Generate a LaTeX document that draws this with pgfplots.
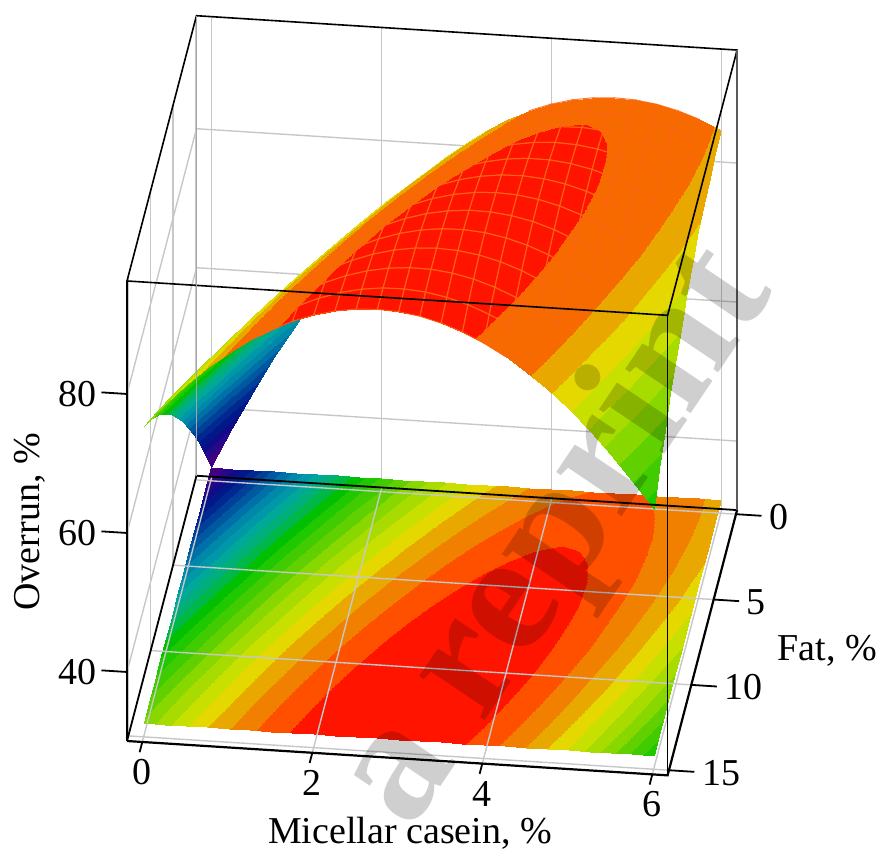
\documentclass[border=0pt]{standalone}
\usepackage{pgfplots}
\usepackage{pgfplotstable}
\usepackage{fontspec}
\setmainfont{Liberation Serif}
\pgfplotsset{compat=1.18}
\pgfplotstableread[row sep=\\]{
x y z\\
0 0 32.00\\ 0.25 0 37.80\\ 0.5 0 43.28\\ 0.75 0 48.45\\ 1 0 53.31\\ 1.25 0 57.86\\ 1.5 0 62.10\\ 1.75 0 66.03\\ 2 0 69.64\\ 2.25 0 72.95\\ 2.5 0 75.94\\ 2.75 0 78.62\\ 3 0 80.99\\ 3.25 0 83.05\\ 3.5 0 84.80\\ 3.75 0 86.24\\ 4 0 87.36\\ 4.25 0 88.18\\ 4.5 0 88.68\\ 4.75 0 88.87\\ 5 0 88.75\\ 5.25 0 88.32\\ 5.5 0 87.58\\ 5.75 0 86.53\\ 6 0 85.16\\
0 1.25 36.84\\ 0.25 1.25 42.42\\ 0.5 1.25 47.69\\ 0.75 1.25 52.65\\ 1 1.25 57.30\\ 1.25 1.25 61.64\\ 1.5 1.25 65.67\\ 1.75 1.25 69.39\\ 2 1.25 72.79\\ 2.25 1.25 75.89\\ 2.5 1.25 78.67\\ 2.75 1.25 81.14\\ 3 1.25 83.30\\ 3.25 1.25 85.15\\ 3.5 1.25 86.69\\ 3.75 1.25 87.92\\ 4 1.25 88.83\\ 4.25 1.25 89.44\\ 4.5 1.25 89.73\\ 4.75 1.25 89.71\\ 5 1.25 89.38\\ 5.25 1.25 88.74\\ 5.5 1.25 87.78\\ 5.75 1.25 86.52\\ 6 1.25 84.95\\
0 2.5 41.44\\ 0.25 2.5 46.82\\ 0.5 2.5 51.88\\ 0.75 2.5 56.63\\ 1 2.5 61.07\\ 1.25 2.5 65.20\\ 1.5 2.5 69.02\\ 1.75 2.5 72.53\\ 2 2.5 75.72\\ 2.25 2.5 78.61\\ 2.5 2.5 81.18\\ 2.75 2.5 83.44\\ 3 2.5 85.38\\ 3.25 2.5 87.02\\ 3.5 2.5 88.35\\ 3.75 2.5 89.37\\ 4 2.5 90.07\\ 4.25 2.5 90.47\\ 4.5 2.5 90.55\\ 4.75 2.5 90.32\\ 5 2.5 89.78\\ 5.25 2.5 88.93\\ 5.5 2.5 87.77\\ 5.75 2.5 86.30\\ 6 2.5 84.51\\
0 3.75 45.82\\ 0.25 3.75 50.98\\ 0.5 3.75 55.83\\ 0.75 3.75 60.37\\ 1 3.75 64.60\\ 1.25 3.75 68.52\\ 1.5 3.75 72.13\\ 1.75 3.75 75.43\\ 2 3.75 78.41\\ 2.25 3.75 81.08\\ 2.5 3.75 83.44\\ 2.75 3.75 85.49\\ 3 3.75 87.23\\ 3.25 3.75 88.66\\ 3.5 3.75 89.78\\ 3.75 3.75 90.59\\ 4 3.75 91.08\\ 4.25 3.75 91.27\\ 4.5 3.75 91.14\\ 4.75 3.75 90.70\\ 5 3.75 89.95\\ 5.25 3.75 88.89\\ 5.5 3.75 87.51\\ 5.75 3.75 85.83\\ 6 3.75 83.83\\
0 5 49.96\\ 0.25 5 54.91\\ 0.5 5 59.55\\ 0.75 5 63.88\\ 1 5 67.90\\ 1.25 5 71.61\\ 1.5 5 75.01\\ 1.75 5 78.10\\ 2 5 80.87\\ 2.25 5 83.34\\ 2.5 5 85.49\\ 2.75 5 87.33\\ 3 5 88.86\\ 3.25 5 90.08\\ 3.5 5 90.98\\ 3.75 5 91.58\\ 4 5 91.86\\ 4.25 5 91.83\\ 4.5 5 91.49\\ 4.75 5 90.85\\ 5 5 89.89\\ 5.25 5 88.62\\ 5.5 5 87.03\\ 5.75 5 85.14\\ 6 5 82.93\\
0 6.25 53.88\\ 0.25 6.25 58.62\\ 0.5 6.25 63.05\\ 0.75 6.25 67.17\\ 1 6.25 70.98\\ 1.25 6.25 74.48\\ 1.5 6.25 77.67\\ 1.75 6.25 80.55\\ 2 6.25 83.11\\ 2.25 6.25 85.37\\ 2.5 6.25 87.31\\ 2.75 6.25 88.94\\ 3 6.25 90.25\\ 3.25 6.25 91.26\\ 3.5 6.25 91.96\\ 3.75 6.25 92.35\\ 4 6.25 92.42\\ 4.25 6.25 92.18\\ 4.5 6.25 91.63\\ 4.75 6.25 90.77\\ 5 6.25 89.60\\ 5.25 6.25 88.12\\ 5.5 6.25 86.33\\ 5.75 6.25 84.22\\ 6 6.25 81.80\\
0 7.5 57.57\\ 0.25 7.5 62.10\\ 0.5 7.5 66.32\\ 0.75 7.5 70.23\\ 1 7.5 73.83\\ 1.25 7.5 77.12\\ 1.5 7.5 80.10\\ 1.75 7.5 82.77\\ 2 7.5 85.12\\ 2.25 7.5 87.16\\ 2.5 7.5 88.89\\ 2.75 7.5 90.31\\ 3 7.5 91.42\\ 3.25 7.5 92.22\\ 3.5 7.5 92.70\\ 3.75 7.5 92.88\\ 4 7.5 92.74\\ 4.25 7.5 92.29\\ 4.5 7.5 91.53\\ 4.75 7.5 90.46\\ 5 7.5 89.08\\ 5.25 7.5 87.39\\ 5.5 7.5 85.39\\ 5.75 7.5 83.08\\ 6 7.5 80.45\\
0 8.75 61.02\\ 0.25 8.75 65.35\\ 0.5 8.75 69.36\\ 0.75 8.75 73.06\\ 1 8.75 76.44\\ 1.25 8.75 79.52\\ 1.5 8.75 82.29\\ 1.75 8.75 84.74\\ 2 8.75 86.88\\ 2.25 8.75 88.72\\ 2.5 8.75 90.24\\ 2.75 8.75 91.45\\ 3 8.75 92.34\\ 3.25 8.75 92.93\\ 3.5 8.75 93.21\\ 3.75 8.75 93.17\\ 4 8.75 92.82\\ 4.25 8.75 92.17\\ 4.5 8.75 91.20\\ 4.75 8.75 89.92\\ 5 8.75 88.33\\ 5.25 8.75 86.43\\ 5.5 8.75 84.21\\ 5.75 8.75 81.69\\ 6 8.75 78.85\\
0 10 64.25\\ 0.25 10 68.37\\ 0.5 10 72.17\\ 0.75 10 75.66\\ 1 10 78.83\\ 1.25 10 81.70\\ 1.5 10 84.26\\ 1.75 10 86.50\\ 2 10 88.43\\ 2.25 10 90.06\\ 2.5 10 91.37\\ 2.75 10 92.37\\ 3 10 93.05\\ 3.25 10 93.43\\ 3.5 10 93.50\\ 3.75 10 93.25\\ 4 10 92.69\\ 4.25 10 91.83\\ 4.5 10 90.65\\ 4.75 10 89.16\\ 5 10 87.35\\ 5.25 10 85.24\\ 5.5 10 82.82\\ 5.75 10 80.08\\ 6 10 77.03\\
0 11.25 67.25\\ 0.25 11.25 71.15\\ 0.5 11.25 74.74\\ 0.75 11.25 78.02\\ 1 11.25 80.99\\ 1.25 11.25 83.65\\ 1.5 11.25 85.99\\ 1.75 11.25 88.03\\ 2 11.25 89.75\\ 2.25 11.25 91.16\\ 2.5 11.25 92.26\\ 2.75 11.25 93.05\\ 3 11.25 93.53\\ 3.25 11.25 93.70\\ 3.5 11.25 93.55\\ 3.75 11.25 93.10\\ 4 11.25 92.33\\ 4.25 11.25 91.25\\ 4.5 11.25 89.86\\ 4.75 11.25 88.16\\ 5 11.25 86.15\\ 5.25 11.25 83.83\\ 5.5 11.25 81.19\\ 5.75 11.25 78.24\\ 6 11.25 74.98\\
0 12.5 70.02\\ 0.25 12.5 73.71\\ 0.5 12.5 77.08\\ 0.75 12.5 80.16\\ 1 12.5 82.92\\ 1.25 12.5 85.37\\ 1.5 12.5 87.50\\ 1.75 12.5 89.33\\ 2 12.5 90.84\\ 2.25 12.5 92.04\\ 2.5 12.5 92.93\\ 2.75 12.5 93.51\\ 3 12.5 93.77\\ 3.25 12.5 93.73\\ 3.5 12.5 93.38\\ 3.75 12.5 92.71\\ 4 12.5 91.73\\ 4.25 12.5 90.44\\ 4.5 12.5 88.84\\ 4.75 12.5 86.93\\ 5 12.5 84.71\\ 5.25 12.5 82.18\\ 5.5 12.5 79.33\\ 5.75 12.5 76.18\\ 6 12.5 72.71\\
0 13.75 72.55\\ 0.25 13.75 76.03\\ 0.5 13.75 79.20\\ 0.75 13.75 82.06\\ 1 13.75 84.61\\ 1.25 13.75 86.85\\ 1.5 13.75 88.77\\ 1.75 13.75 90.38\\ 2 13.75 91.68\\ 2.25 13.75 92.68\\ 2.5 13.75 93.36\\ 2.75 13.75 93.73\\ 3 13.75 93.78\\ 3.25 13.75 93.53\\ 3.5 13.75 92.96\\ 3.75 13.75 92.09\\ 4 13.75 90.90\\ 4.25 13.75 89.40\\ 4.5 13.75 87.59\\ 4.75 13.75 85.47\\ 5 13.75 83.03\\ 5.25 13.75 80.29\\ 5.5 13.75 77.23\\ 5.75 13.75 73.87\\ 6 13.75 70.19\\
0 15 74.86\\ 0.25 15 78.13\\ 0.5 15 81.09\\ 0.75 15 83.74\\ 1 15 86.08\\ 1.25 15 88.11\\ 1.5 15 89.82\\ 1.75 15 91.22\\ 2 15 92.31\\ 2.25 15 93.09\\ 2.5 15 93.56\\ 2.75 15 93.72\\ 3 15 93.57\\ 3.25 15 93.11\\ 3.5 15 92.33\\ 3.75 15 91.24\\ 4 15 89.84\\ 4.25 15 88.13\\ 4.5 15 86.11\\ 4.75 15 83.78\\ 5 15 81.14\\ 5.25 15 78.19\\ 5.5 15 74.92\\ 5.75 15 71.34\\ 6 15 67.45\\
}\surfdata
\pgfplotsset{gridln/.style={draw=black!22,line width=1.4pt,forget plot},boxln/.style={black,line width=#1,forget plot},tk/.style={black,line width=1.8pt,forget plot},
colormap={bandtop}{rgb255=(64,0,128) rgb255=(64,0,128) rgb255=(64,0,128) rgb255=(40,8,136) rgb255=(16,12,136) rgb255=(0,24,136) rgb255=(0,40,144) rgb255=(0,64,152) rgb255=(0,88,160) rgb255=(0,112,168) rgb255=(0,136,168) rgb255=(0,152,168) rgb255=(0,168,152) rgb255=(0,176,120) rgb255=(0,184,72) rgb255=(0,192,0) rgb255=(32,200,0) rgb255=(64,204,0) rgb255=(96,208,0) rgb255=(136,216,0) rgb255=(168,220,0) rgb255=(200,224,0) rgb255=(228,216,0) rgb255=(232,168,0) rgb255=(246,106,0) rgb255=(246,106,0) rgb255=(255,20,0) rgb255=(255,20,0)}}
\begin{document}
\begin{tikzpicture}[x=1pt,y=1pt]
\path[use as bounding box] (0,0) rectangle (880,854);
\begin{axis}[
  at={(210.7pt,373.2pt)},anchor=origin,
  x={(85pt,-5.4pt)},y={(-4.47pt,-17.07pt)},z={(0pt,6.95pt)},
  xmin=-0.18,xmax=6.18,ymin=-0.24,ymax=15.3,zmin=30.07,zmax=96.26,
  clip=false,
  axis lines=box,
  axis line style={draw=none},
  xtick={0,2,4,6},ytick={0,5,10,15},ztick={40,60,80},
  tick style={draw=none},
  major tick length=0pt,
  /pgf/number format/assume math mode=true,
  tick label style={font=\fontsize{38}{40}\selectfont,inner sep=0pt},
  xticklabel style={anchor=center,yshift=-30pt},
  yticklabel style={anchor=west,xshift=33pt,yshift=-2.5pt},
  zticklabel style={anchor=east,xshift=-30pt},
  colormap={band}{rgb255=(64,0,128) rgb255=(64,0,128) rgb255=(64,0,128) rgb255=(40,8,136) rgb255=(16,12,136) rgb255=(0,24,136) rgb255=(0,40,144) rgb255=(0,64,152) rgb255=(0,88,160) rgb255=(0,112,168) rgb255=(0,136,168) rgb255=(0,152,168) rgb255=(0,168,152) rgb255=(0,176,120) rgb255=(0,184,72) rgb255=(0,192,0) rgb255=(32,200,0) rgb255=(64,204,0) rgb255=(96,208,0) rgb255=(136,216,0) rgb255=(168,220,0) rgb255=(200,224,0) rgb255=(228,216,0) rgb255=(232,168,0) rgb255=(242,128,0) rgb255=(255,80,0) rgb255=(255,20,0) rgb255=(255,20,0)},
  colormap access=piecewise constant,
  point meta min=28.6,point meta max=95.8,
  z buffer=none,
  xlabel={Micellar casein, \%},ylabel={Fat, \%},zlabel={Overrun, \%},
  every axis x label/.style={at={(axis cs:3.375,19.57,30.07)},anchor=center,font=\fontsize{38}{40}\selectfont},
  every axis y label/.style={at={(axis cs:7.65,7.55,30.07)},anchor=center,font=\fontsize{38}{40}\selectfont},
  every axis z label/.style={at={(axis cs:-1.32,15.3,60.7)},anchor=center,rotate=90,font=\fontsize{38}{40}\selectfont},
]
% back wall grid
\addplot3[gridln] coordinates {(0,-0.24,30.07) (0,-0.24,96.26)};
\addplot3[gridln] coordinates {(2,-0.24,30.07) (2,-0.24,96.26)};
\addplot3[gridln] coordinates {(4,-0.24,30.07) (4,-0.24,96.26)};
\addplot3[gridln] coordinates {(6,-0.24,30.07) (6,-0.24,96.26)};
\addplot3[gridln] coordinates {(-0.18,15.3,40) (-0.18,-0.24,40) (6.18,-0.24,40)};
\addplot3[gridln] coordinates {(-0.18,15.3,60) (-0.18,-0.24,60) (6.18,-0.24,60)};
\addplot3[gridln] coordinates {(-0.18,15.3,80) (-0.18,-0.24,80) (6.18,-0.24,80)};
\addplot3[gridln] coordinates {(-0.18,5,30.07) (-0.18,5,96.26)};
\addplot3[gridln] coordinates {(-0.18,10,30.07) (-0.18,10,96.26)};
\addplot3[gridln] coordinates {(-0.18,0,30.07) (-0.18,0,96.26)};
\addplot3[gridln] coordinates {(-0.18,15,30.07) (-0.18,15,96.26)};
% contour floor
\addplot3[surf,shader=interp,mesh/cols=25,point meta=\thisrow{z},forget plot] table[x=x,y=y,z expr=32] {\surfdata};
% floor grid
\addplot3[gridln] coordinates {(-0.18,0,30.07) (6.18,0,30.07)};
\addplot3[gridln] coordinates {(-0.18,5,30.07) (6.18,5,30.07)};
\addplot3[gridln] coordinates {(-0.18,10,30.07) (6.18,10,30.07)};
\addplot3[gridln] coordinates {(-0.18,15,30.07) (6.18,15,30.07)};
\addplot3[gridln] coordinates {(0,-0.24,30.07) (0,15.3,30.07)};
\addplot3[gridln] coordinates {(2,-0.24,30.07) (2,15.3,30.07)};
\addplot3[gridln] coordinates {(4,-0.24,30.07) (4,15.3,30.07)};
\addplot3[gridln] coordinates {(6,-0.24,30.07) (6,15.3,30.07)};
% surface
\addplot3[surf,shader=interp,colormap name=bandtop,mesh/cols=25,point meta={\thisrow{z}+0.6},forget plot] table[x=x,y=y,z=z] {\surfdata};
% hatch on the upper part of the surface
\addplot3[mesh,mesh/cols=25,draw={rgb,255:red,255;green,100;blue,20},line width=1pt,opacity=0.85,restrict z to domain=86.2:100,forget plot] table[x=x,y=y,z=z] {\surfdata};
% box
\addplot3[boxln=2.2pt] coordinates {(-0.18,15.3,30.07) (6.18,15.3,30.07) (6.18,-0.24,30.07)};
\addplot3[boxln=1.8pt] coordinates {(6.18,-0.24,30.07) (-0.18,-0.24,30.07) (-0.18,15.3,30.07)};
\addplot3[boxln=1.6pt] coordinates {(-0.18,15.3,96.26) (6.18,15.3,96.26) (6.18,-0.24,96.26) (-0.18,-0.24,96.26) (-0.18,15.3,96.26)};
\addplot3[boxln=1.8pt] coordinates {(-0.18,15.3,30.07) (-0.18,15.3,96.26)};
\addplot3[boxln=1.2pt] coordinates {(6.18,15.3,30.07) (6.18,15.3,96.26)};
\addplot3[draw=black!65,line width=1.4pt,forget plot] coordinates {(6.18,-0.24,30.07) (6.18,-0.24,96.26)};
\addplot3[draw=black!35,line width=1.4pt,forget plot] coordinates {(-0.18,-0.24,30.07) (-0.18,-0.24,96.26)};
% tick marks
\addplot3[tk] coordinates {(0,15.3,30.07) (0,15.9,30.07)};
\addplot3[tk] coordinates {(2,15.3,30.07) (2,15.9,30.07)};
\addplot3[tk] coordinates {(4,15.3,30.07) (4,15.9,30.07)};
\addplot3[tk] coordinates {(6,15.3,30.07) (6,15.9,30.07)};
\addplot3[tk] coordinates {(6.18,0,30.07) (6.48,0,30.07)};
\addplot3[tk] coordinates {(6.18,5,30.07) (6.48,5,30.07)};
\addplot3[tk] coordinates {(6.18,10,30.07) (6.48,10,30.07)};
\addplot3[tk] coordinates {(6.18,15,30.07) (6.48,15,30.07)};
\addplot3[tk] coordinates {(-0.18,15.3,40) (-0.48,15.3,40)};
\addplot3[tk] coordinates {(-0.18,15.3,60) (-0.48,15.3,60)};
\addplot3[tk] coordinates {(-0.18,15.3,80) (-0.48,15.3,80)};
\end{axis}
\node[rotate=56,text=black,text opacity=0.19,font=\fontsize{172}{180}\selectfont\bfseries] at (558,316) {a reprint};
\end{tikzpicture}
\end{document}
